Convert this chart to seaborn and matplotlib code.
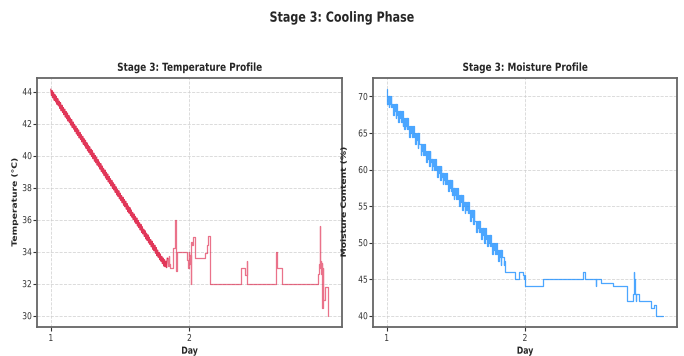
import matplotlib
matplotlib.use("Agg")
import matplotlib.pyplot as plt
import seaborn as sns
import pandas as pd
from matplotlib.patheffects import AbstractPathEffect
from matplotlib.transforms import Affine2D

# ---------------- data ----------------
# sampling days of the fast-cooling part (shared by both sensors)
dense_days = [
    1.000, 1.005, 1.010, 1.015, 1.020, 1.025, 1.030, 1.035, 1.040, 1.045,
    1.050, 1.055, 1.060, 1.065, 1.070, 1.075, 1.080, 1.085, 1.090, 1.095,
    1.100, 1.105, 1.110, 1.115, 1.120, 1.125, 1.130, 1.135, 1.140, 1.145,
    1.150, 1.155, 1.160, 1.165, 1.170, 1.175, 1.180, 1.185, 1.190, 1.195,
    1.200, 1.205, 1.210, 1.215, 1.220, 1.225, 1.230, 1.235, 1.240, 1.245,
    1.250, 1.255, 1.260, 1.265, 1.270, 1.275, 1.280, 1.285, 1.290, 1.295,
    1.300, 1.305, 1.310, 1.315, 1.320, 1.325, 1.330, 1.335, 1.340, 1.345,
    1.350, 1.355, 1.360, 1.365, 1.370, 1.375, 1.380, 1.385, 1.390, 1.395,
    1.400, 1.405, 1.410, 1.415, 1.420, 1.425, 1.430, 1.435, 1.440, 1.445,
    1.450, 1.455, 1.460, 1.465, 1.470, 1.475, 1.480, 1.485, 1.490, 1.495,
    1.500, 1.505, 1.510, 1.515, 1.520, 1.525, 1.530, 1.535, 1.540, 1.545,
    1.550, 1.555, 1.560, 1.565, 1.570, 1.575, 1.580, 1.585, 1.590, 1.595,
    1.600, 1.605, 1.610, 1.615, 1.620, 1.625, 1.630, 1.635, 1.640, 1.645,
    1.650, 1.655, 1.660, 1.665, 1.670, 1.675, 1.680, 1.685, 1.690, 1.695,
    1.700, 1.705, 1.710, 1.715, 1.720, 1.725, 1.730, 1.735, 1.740, 1.745,
    1.750, 1.755, 1.760, 1.765, 1.770, 1.775, 1.780, 1.785, 1.790, 1.795,
    1.800, 1.805, 1.810, 1.815, 1.820, 1.825, 1.830, 1.835,
]
dense_temp = [
    44.15, 43.75, 44.05, 43.6, 43.95, 43.45, 43.8, 43.35, 43.7, 43.2,
    43.55, 43.1, 43.4, 42.95, 43.3, 42.8, 43.15, 42.7, 43.0, 42.55,
    42.9, 42.4, 42.75, 42.3, 42.65, 42.15, 42.5, 42.05, 42.35, 41.9,
    42.25, 41.75, 42.1, 41.65, 41.95, 41.5, 41.85, 41.35, 41.7, 41.25,
    41.6, 41.1, 41.45, 41.0, 41.3, 40.85, 41.2, 40.7, 41.05, 40.6,
    40.95, 40.45, 40.8, 40.3, 40.65, 40.2, 40.55, 40.05, 40.4, 39.95,
    40.3, 39.8, 40.15, 39.65, 40.0, 39.55, 39.9, 39.4, 39.75, 39.3,
    39.6, 39.15, 39.5, 39.0, 39.35, 38.9, 39.2, 38.75, 39.1, 38.6,
    38.95, 38.5, 38.85, 38.35, 38.7, 38.25, 38.55, 38.1, 38.45, 37.95,
    38.3, 37.85, 38.2, 37.7, 38.05, 37.55, 37.9, 37.45, 37.8, 37.3,
    37.65, 37.2, 37.5, 37.05, 37.4, 36.9, 37.25, 36.8, 37.15, 36.65,
    37.0, 36.5, 36.85, 36.4, 36.75, 36.25, 36.6, 36.15, 36.45, 36.0,
    36.35, 35.85, 36.2, 35.75, 36.1, 35.6, 35.95, 35.5, 35.8, 35.35,
    35.7, 35.2, 35.55, 35.1, 35.4, 34.95, 35.3, 34.8, 35.15, 34.7,
    35.05, 34.55, 34.9, 34.45, 34.75, 34.3, 34.65, 34.15, 34.5, 34.05,
    34.4, 33.9, 34.25, 33.75, 34.1, 33.65, 33.95, 33.5, 33.85, 33.4,
    33.7, 33.25, 33.6, 33.1, 33.5, 33.05, 33.4, 33.0,
]
dense_moist = [
    71, 69, 70, 68.5, 70, 69, 70, 68.5,
    69, 67.5, 69, 68, 69, 67, 69, 67.5,
    68, 66.5, 68, 67, 68, 66.5, 68, 66,
    67, 65.5, 67, 66, 67, 65.5, 67, 65.5,
    66, 64.5, 66, 65, 66, 64.5, 66, 64.5,
    65, 63.5, 65, 64, 65, 63, 65, 63.5,
    63.5, 62, 63.5, 62.5, 63.5, 62, 63.5, 62,
    62.5, 61, 62.5, 61.5, 62.5, 60.5, 62.5, 61,
    61.5, 60, 61.5, 60.5, 61.5, 60, 61.5, 60,
    60.5, 59, 60.5, 59.5, 60.5, 58.5, 60.5, 59,
    59.5, 58, 59.5, 58.5, 59.5, 58, 59.5, 58,
    58.5, 57, 58.5, 57.5, 58.5, 57, 58.5, 56.5,
    57.5, 56, 57.5, 56.5, 57.5, 56, 57.5, 56,
    56.5, 55, 56.5, 55.5, 56.5, 54.5, 56.5, 55,
    55.5, 54, 55.5, 54.5, 55.5, 54, 55.5, 54,
    54.5, 53, 54.5, 53.5, 54.5, 52.5, 54.5, 53,
    53, 51.5, 53, 52, 53, 51.5, 53, 51.5,
    52, 50.5, 52, 51, 52, 50, 52, 50.5,
    51, 49.5, 51, 50, 51, 49.5, 51, 49.5,
    50, 48.5, 50, 49, 50, 48.5, 50, 48.5,
    49, 47.5, 49, 48, 49, 47, 49, 48,
]

# irregular temperature after the fast cooling
temp_late_days = [
    1.840, 1.845, 1.850, 1.855, 1.860, 1.878, 1.883, 1.893, 1.898, 1.902,
    1.905, 1.910, 1.985, 1.990, 1.995, 2.000, 2.005, 2.008, 2.012, 2.020,
    2.027, 2.040, 2.111, 2.125, 2.135, 2.145, 2.373, 2.404, 2.412, 2.418,
    2.622, 2.634, 2.670, 2.928, 2.933, 2.938, 2.941, 2.945, 2.949, 2.953,
    2.957, 2.962, 2.966, 2.978, 3.000,
]
temp_late_values = [
    33.6, 33.1, 33.7, 33.2, 33.0, 33.3, 34.2, 34.4, 35.95, 34.6,
    32.8, 34.0, 33.5, 33.0, 34.0, 33.2, 33.8, 32.0, 34.6, 34.4,
    34.9, 33.6, 33.9, 34.4, 35.0, 32.0, 33.0, 32.55, 33.4, 32.0,
    34.0, 33.0, 32.0, 32.6, 33.2, 35.6, 33.0, 33.4, 32.6, 33.3,
    30.5, 33.0, 31.0, 31.8, 30.0,
]

# irregular moisture after the fast drying
moist_late_days = [
    1.840, 1.845, 1.850, 1.858, 1.930, 1.954, 1.983, 1.990, 1.995, 2.000,
    2.128, 2.417, 2.436, 2.510, 2.515, 2.549, 2.634, 2.737, 2.778, 2.786,
    2.790, 2.794, 2.800, 2.803, 2.822, 2.911, 2.930, 2.944, 3.000,
]
moist_late_values = [
    48, 47, 47.5, 46, 45, 46, 45.5, 45, 45.5, 44,
    45, 46, 45, 44, 45, 44.5, 44, 42, 43, 46,
    45, 43, 42, 43, 42, 41, 41.5, 40, 40,
]

day_ticks = [1, 2]

cool_df = pd.DataFrame({"Day": dense_days + temp_late_days[:1],
                        "Temperature": dense_temp + temp_late_values[:1]})
late_df = pd.DataFrame({"Day": temp_late_days, "Temperature": temp_late_values})
moist_df = pd.DataFrame({"Day": dense_days + moist_late_days,
                         "Moisture": dense_moist + moist_late_values})


# horizontal squash of glyphs (reference text looks narrow)
class Squash(AbstractPathEffect):
    def __init__(self, sx=0.8, sy=1.0, align="center"):
        super().__init__()
        self.sx, self.sy, self.align = sx, sy, align

    def draw_path(self, renderer, gc, tpath, affine, rgbFace=None):
        ext = tpath.get_extents()
        if self.align == "center":
            ox = (ext.x0 + ext.x1) / 2
        elif self.align == "right":
            ox = ext.x1
        else:
            ox = ext.x0
        oy = (ext.y0 + ext.y1) / 2
        t = Affine2D().translate(-ox, -oy).scale(self.sx, self.sy).translate(ox, oy)
        renderer.draw_path(gc, tpath, t + affine, rgbFace)


SX = 0.8

# ---------------- style ----------------
sns.set_style("white")
plt.rcParams["font.family"] = ["DejaVu Sans"]

fig = plt.figure(figsize=(6.84, 3.56), dpi=100)
ax1 = fig.add_axes([0.054, 0.0815, 0.446, 0.70])
ax2 = fig.add_axes([0.545, 0.0815, 0.445, 0.70])

red = "#DC143C"
blue = "#1E90FF"
sns.lineplot(data=cool_df, x="Day", y="Temperature", ax=ax1, color=red,
             alpha=0.85, linewidth=0.9, estimator=None)
sns.lineplot(data=late_df, x="Day", y="Temperature", ax=ax1, color=red,
             alpha=0.6, linewidth=0.9, drawstyle="steps-post", estimator=None)
sns.lineplot(data=moist_df, x="Day", y="Moisture", ax=ax2, color=blue,
             alpha=0.8, linewidth=0.9, drawstyle="steps-post", estimator=None)

titles = ["Stage 3: Temperature Profile", "Stage 3: Moisture Profile"]
ylabels = ["Temperature (°C)", "Moisture Content (%)"]
ylabel_x = [-0.058, -0.08]
for ax, t, yl, lx in zip([ax1, ax2], titles, ylabels, ylabel_x):
    ax.set_title(t, fontsize=8, fontweight="bold", pad=5,
                 path_effects=[Squash(SX)])
    ax.set_xlabel("Day", fontsize=7, fontweight="bold", labelpad=2,
                  path_effects=[Squash(SX)])
    ax.set_ylabel(yl, fontsize=6.6, fontweight="bold",
                  path_effects=[Squash(1.0, SX)])
    ax.yaxis.set_label_coords(lx, 0.5)
    ax.set_xticks(day_ticks)
    ax.grid(True, linestyle="--", linewidth=0.6, color="#cccccc", alpha=0.8)
    ax.tick_params(axis="both", labelsize=6.8, colors="#333333", length=3,
                   width=0.8, direction="out", left=True, bottom=True, pad=2)
    ax.tick_params(axis="y", pad=0.5)
    for lab in ax.get_xticklabels():
        lab.set_path_effects([Squash(SX)])
    for lab in ax.get_yticklabels():
        lab.set_path_effects([Squash(SX, align="right")])
    for s in ax.spines.values():
        s.set_color("#666666")
        s.set_linewidth(1.3)

fig.suptitle("Stage 3: Cooling Phase", fontsize=10, fontweight="bold", y=0.97,
             path_effects=[Squash(SX)])
fig.savefig("out.png", dpi=100)
